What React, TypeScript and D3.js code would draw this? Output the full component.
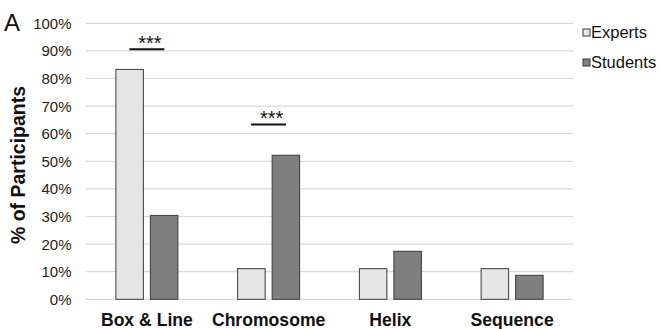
import React from "react";
import * as d3 from "d3";

const categories = ["Box & Line", "Chromosome", "Helix", "Sequence"];
const seriesNames = ["Experts", "Students"];
const experts = [83.3, 11.1, 11.1, 11.1];
const students = [30.4, 52.2, 17.4, 8.7];
const yTicks = [0, 10, 20, 30, 40, 50, 60, 70, 80, 90, 100];
const significance = [
  { category: "Box & Line", label: "***", level: 90.6 },
  { category: "Chromosome", label: "***", level: 63.3 },
];

const W = 669;
const H = 329;
const colors = ["#e5e5e5", "#7f7f7f"];
const font = "'Liberation Sans', Arial, sans-serif";

export default function App() {
  const x = d3.scaleBand<string>().domain(categories).range([86, 573]);
  const y = d3.scaleLinear().domain([0, 100]).range([299.3, 23.3]);
  const barW = 27.5;
  const gap = 7;
  const series = [experts, students];

  return (
    <svg
      width={W}
      height={H}
      style={{ position: "absolute", left: 0, top: 0, display: "block", background: "#fff" }}
      fontFamily={font}
    >
      {yTicks.map((t) => (
        <g key={t}>
          <line x1={86} x2={573} y1={y(t)} y2={y(t)} stroke="#d9d9d9" strokeWidth={1.2} />
          <text x={71.5} y={y(t)} dy="0.36em" textAnchor="end" fontSize={15} fill="#222">
            {t}%
          </text>
        </g>
      ))}
      {categories.map((c, i) => {
        const cx = (x(c) as number) + x.bandwidth() / 2;
        return (
          <g key={c}>
            {series.map((s, j) => {
              const left = j === 0 ? cx - gap / 2 - barW : cx + gap / 2;
              return (
                <rect
                  key={j}
                  x={left}
                  y={y(s[i])}
                  width={barW}
                  height={y(0) - y(s[i])}
                  fill={colors[j]}
                  stroke="#3a3a3a"
                  strokeWidth={1}
                />
              );
            })}
            <text x={cx} y={325.5} textAnchor="middle" fontSize={17.6} fontWeight="bold" fill="#111">
              {c}
            </text>
          </g>
        );
      })}
      {significance.map((s) => {
        const cx = (x(s.category) as number) + x.bandwidth() / 2;
        return (
          <g key={s.category}>
            <line x1={cx - 17.5} x2={cx + 17.5} y1={y(s.level)} y2={y(s.level)} stroke="#111" strokeWidth={2} />
            <text x={cx + 3} y={y(s.level) + 0.5} textAnchor="middle" fontSize={20} fill="#111">
              {s.label}
            </text>
          </g>
        );
      })}
      <text x={4} y={31} fontSize={24} fill="#111">A</text>
      <text
        transform={`translate(25,${165}) rotate(-90)`}
        textAnchor="middle"
        fontSize={19.5}
        fontWeight="bold"
        fill="#111"
      >
        % of Participants
      </text>
      {seriesNames.map((n, j) => (
        <g key={n} transform={`translate(583,${29 + j * 30})`}>
          <rect x={0} y={0} width={7} height={7} fill={colors[j]} stroke="#3a3a3a" strokeWidth={1} />
          <text x={8} y={8.5} fontSize={16.5} fill="#111">{n}</text>
        </g>
      ))}
    </svg>
  );
}
